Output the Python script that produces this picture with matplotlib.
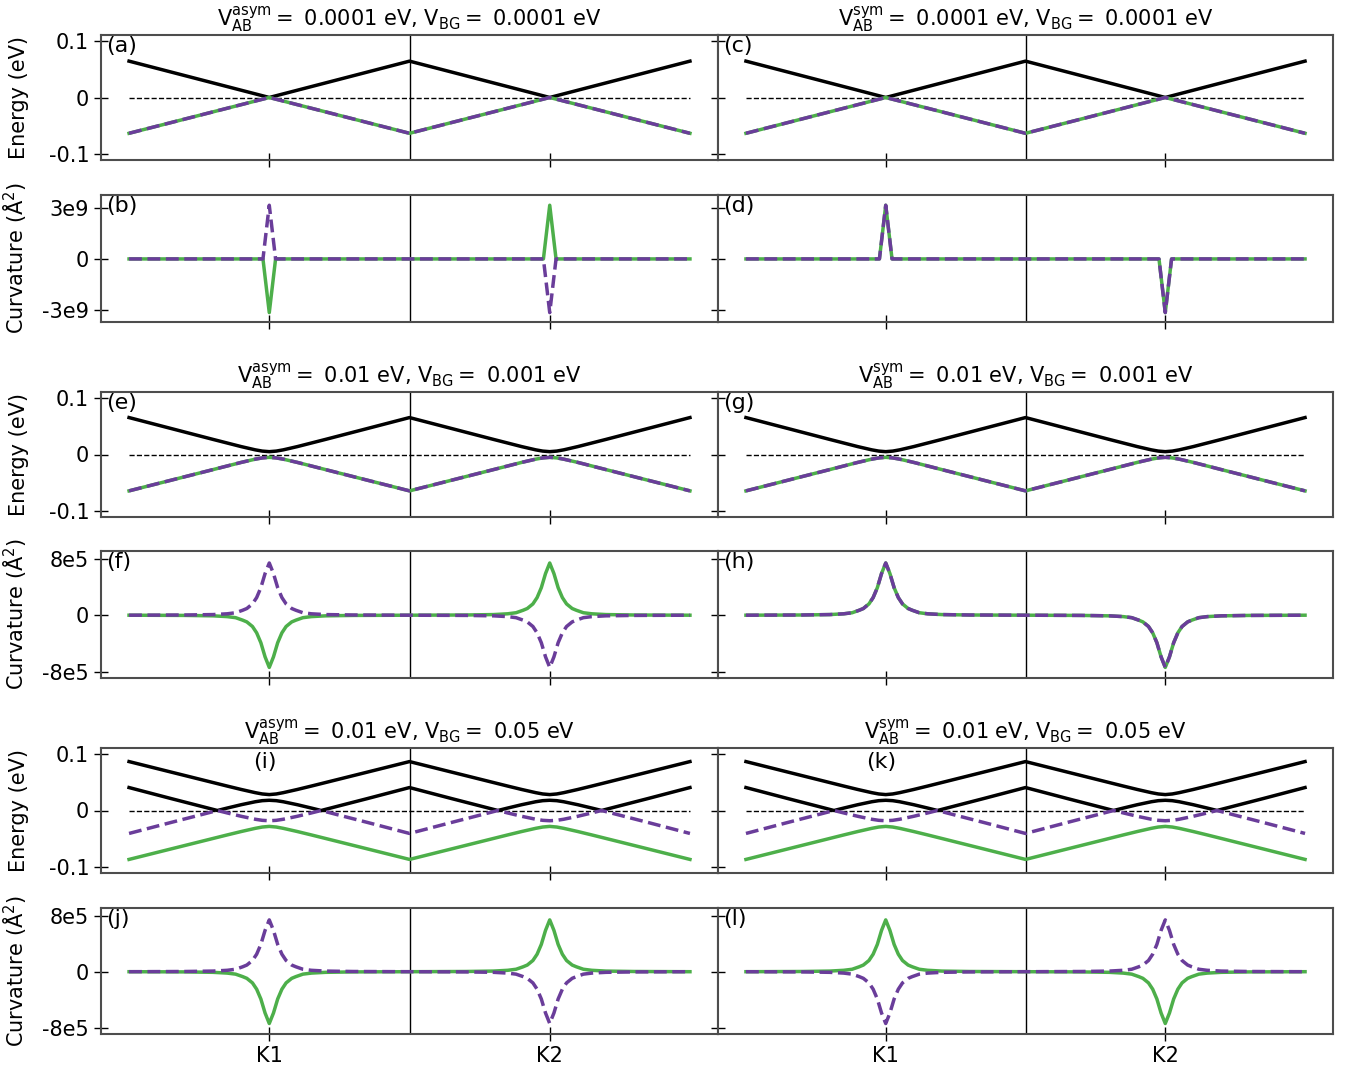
import matplotlib
matplotlib.use('Agg')
import matplotlib.pyplot as plt
import matplotlib.transforms as mtrans
import numpy as np

# half-valley profiles: distance from K (in path units) and values
dk_a = [0.0, 1.0]
ea_cond = [0.0, 0.064]
ea_val = [0.0, -0.063]

dk_e = [0.0, 0.05, 0.1, 0.2, 0.4, 1.0]
ee_cond = [0.005, 0.006, 0.0082, 0.0139, 0.0265, 0.065]
ee_val = [-0.005, -0.006, -0.0082, -0.0139, -0.0265, -0.064]

dk_i = [0.0, 0.05, 0.1, 0.2, 0.3, 0.37, 0.5, 0.7, 1.0]
ei_up = [0.028, 0.0291, 0.0314, 0.037, 0.043, 0.0473, 0.0553, 0.0676, 0.0861]
ei_low = [0.018, 0.0173, 0.0154, 0.0102, 0.0043, 0.0, 0.0083, 0.021, 0.0404]
ei_purple = [-0.018, -0.0173, -0.0154, -0.0102, -0.0043, 0.0, -0.0083, -0.021, -0.0404]
ei_green = [-0.028, -0.0291, -0.0314, -0.037, -0.043, -0.0473, -0.0553, -0.0676, -0.0861]

# curvature peaks
dk_spike = [0.0, 0.045, 1.0]
c_spike = [3.15e9, 0.0, 0.0]
dk_peak = [0.0, 0.03, 0.06, 0.09, 0.12, 0.16, 0.19, 0.24, 0.3, 0.4, 0.6, 1.0]
c_peak = [7.4e5, 5.9e5, 3.9e5, 2.5e5, 1.6e5, 0.95e5, 0.7e5, 0.35e5, 0.2e5, 0.09e5, 0.03e5, 0.0]

# signs of the curvature at (K1, K2) for green / purple
signs = {
    'b': [(-1, 1), (1, -1)],
    'd': [(1, -1), (1, -1)],
    'f': [(-1, 1), (1, -1)],
    'h': [(1, -1), (1, -1)],
    'j': [(-1, 1), (1, -1)],
    'l': [(1, -1), (-1, 1)],
}

titles_left = [r'$\mathrm{V_{AB}^{asym}} =$ 0.0001 eV, $\mathrm{V_{BG}} =$ 0.0001 eV',
               r'$\mathrm{V_{AB}^{asym}} =$ 0.01 eV, $\mathrm{V_{BG}} =$ 0.001 eV',
               r'$\mathrm{V_{AB}^{asym}} =$ 0.01 eV, $\mathrm{V_{BG}} =$ 0.05 eV']
titles_right = [r'$\mathrm{V_{AB}^{sym}} =$ 0.0001 eV, $\mathrm{V_{BG}} =$ 0.0001 eV',
                r'$\mathrm{V_{AB}^{sym}} =$ 0.01 eV, $\mathrm{V_{BG}} =$ 0.001 eV',
                r'$\mathrm{V_{AB}^{sym}} =$ 0.01 eV, $\mathrm{V_{BG}} =$ 0.05 eV']

kticks = [1, 3]
klabels = ['K1', 'K2']

green = '#4daf4a'
purple = '#6a3d9a'

W, H = 1353, 1074


def path(dk, v, s=(1, 1)):
    dk = np.asarray(dk)
    v = np.asarray(v)
    xs, ys = [], []
    for K, sg in zip((1, 3), s):
        xs += list(K - dk[::-1]) + list(K + dk[1:])
        ys += list(sg * v[::-1]) + list(sg * v[1:])
    return xs, ys


def make_ax(x0, x1, y0, y1):
    ax = plt.gcf().add_axes([x0 / W, 1 - y1 / H, (x1 - x0) / W, (y1 - y0) / H])
    for sp in ax.spines.values():
        sp.set_color('0.3')
        sp.set_linewidth(1.5)
    ax.set_xlim(-0.2, 4.2)
    ax.set_xticks(kticks)
    ax.tick_params(direction='inout', length=10, width=1, labelsize=15)
    ax.axvline(2, color='k', lw=1)
    return ax


fig = plt.figure(figsize=(W / 100, H / 100), dpi=100)

rows = [(35, 160, 195, 322), (392, 517, 551, 678), (748, 873, 908, 1034)]
cols = [(101, 718), (718, 1333)]
letters = [['a', 'b', 'c', 'd'], ['e', 'f', 'g', 'h'], ['i', 'j', 'k', 'l']]

for r, (ey0, ey1, cy0, cy1) in enumerate(rows):
    for c, (x0, x1) in enumerate(cols):
        le, lc = letters[r][2 * c], letters[r][2 * c + 1]
        axe = make_ax(x0, x1, ey0, ey1)
        axc = make_ax(x0, x1, cy0, cy1)

        # energy bands
        axe.plot([0, 4], [0, 0], 'k--', lw=1)
        if r == 0:
            axe.plot(*path(dk_a, ea_cond), color='k', lw=2.5)
            axe.plot(*path(dk_a, ea_val), color=green, lw=2.5)
            axe.plot(*path(dk_a, ea_val), color=purple, lw=2.5, ls='--')
        elif r == 1:
            axe.plot(*path(dk_e, ee_cond), color='k', lw=2.5)
            axe.plot(*path(dk_e, ee_val), color=green, lw=2.5)
            axe.plot(*path(dk_e, ee_val), color=purple, lw=2.5, ls='--')
        else:
            axe.plot(*path(dk_i, ei_up), color='k', lw=2.5)
            axe.plot(*path(dk_i, ei_low), color='k', lw=2.5)
            axe.plot(*path(dk_i, ei_purple), color=purple, lw=2.5, ls='--')
            axe.plot(*path(dk_i, ei_green), color=green, lw=2.5)
        axe.set_ylim(-0.11, 0.11)
        axe.set_yticks([-0.1, 0, 0.1])
        axe.set_xticklabels([])

        # curvature
        sg_g, sg_p = signs[lc]
        if r == 0:
            axc.plot(*path(dk_spike, c_spike, sg_g), color=green, lw=2.5)
            axc.plot(*path(dk_spike, c_spike, sg_p), color=purple, lw=2.5, ls='--')
            axc.set_ylim(-3.7e9, 3.75e9)
            axc.set_yticks([-3e9, 0, 3e9])
            ylab = ['-3e9', '0', '3e9']
        else:
            axc.plot(*path(dk_peak, c_peak, sg_g), color=green, lw=2.5)
            axc.plot(*path(dk_peak, c_peak, sg_p), color=purple, lw=2.5, ls='--')
            axc.set_ylim(-8.9e5, 9.1e5)
            axc.set_yticks([-8e5, 0, 8e5])
            ylab = ['-8e5', '0', '8e5']

        if c == 0:
            axe.set_yticklabels(['-0.1', '0', '0.1'])
            axc.set_yticklabels(ylab)
            axe.set_ylabel('Energy (eV)', fontsize=15)
            axc.set_ylabel('Curvature (Å$^2$)', fontsize=15)
            axe.yaxis.set_label_coords(-0.117, 0.5)
            axc.yaxis.set_label_coords(-0.117, 0.5)
        else:
            axe.set_yticklabels([])
            axc.set_yticklabels([])

        if r == 2:
            axc.set_xticklabels(klabels)
        else:
            axc.set_xticklabels([])

        # panel labels
        if r == 2:
            tr = mtrans.blended_transform_factory(axe.transData, axe.transAxes)
            axe.text(0.97, 0.97, '(%s)' % le, transform=tr, ha='center', va='top', fontsize=16)
        else:
            axe.text(0.008, 0.99, '(%s)' % le, transform=axe.transAxes, ha='left', va='top', fontsize=16)
        axc.text(0.008, 0.99, '(%s)' % lc, transform=axc.transAxes, ha='left', va='top', fontsize=16)

        titles = titles_left if c == 0 else titles_right
        axe.set_title(titles[r], fontsize=15, pad=4)

plt.savefig('out.png', dpi=100)
